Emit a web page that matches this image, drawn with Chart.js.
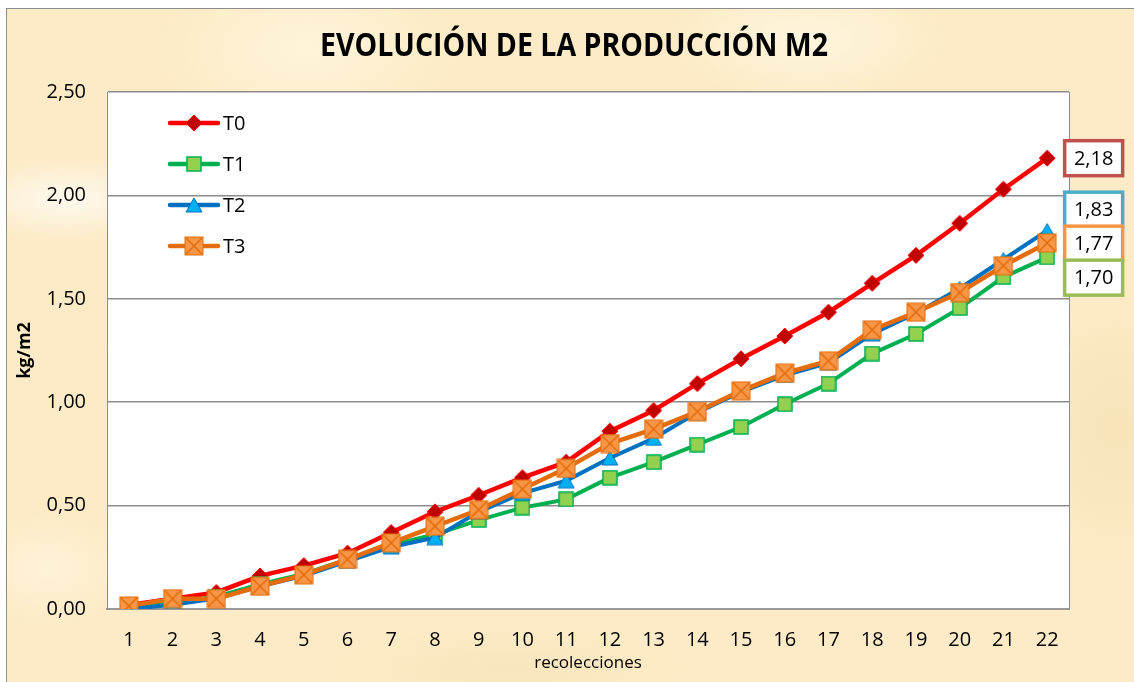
<!DOCTYPE html>
<html lang="es">
<head>
<meta charset="UTF-8" />
<script src="https://cdn.jsdelivr.net/npm/chart.js@4.4.0/dist/chart.umd.min.js"></script>
<style>
	html, body { margin: 0; padding: 0; background: #fff; overflow: hidden; }
	#frame {
		position: absolute; left: 6px; top: 8px; width: 1140px; height: 690px;
		border-left: 1.5px solid #8c8c8c; border-top: 1.5px solid #8c8c8c;
		background-color: #fcebc6;
		background-image:
			radial-gradient(ellipse 160px 60px at 60px 190px, rgba(255,255,255,0.7), rgba(255,255,255,0) 70%),
			radial-gradient(ellipse 220px 120px at 300px 40px, rgba(255,246,222,0.8), rgba(255,246,222,0) 70%),
			radial-gradient(ellipse 200px 90px at 800px 30px, rgba(255,248,228,0.8), rgba(255,248,228,0) 70%),
			radial-gradient(ellipse 160px 200px at 1110px 420px, rgba(246,224,178,0.7), rgba(246,224,178,0) 70%),
			radial-gradient(ellipse 260px 60px at 500px 660px, rgba(248,228,186,0.8), rgba(248,228,186,0) 70%),
			radial-gradient(ellipse 120px 80px at 40px 560px, rgba(255,244,220,0.8), rgba(255,244,220,0) 70%);
	}
	#chart { position: absolute; left: 0; top: 0; }
</style>
</head>
<body>
<div id="frame"></div>
<canvas id="chart" width="1134" height="682"></canvas>
<script>
const labels = ['1', '2', '3', '4', '5', '6', '7', '8', '9', '10', '11', '12', '13', '14', '15', '16', '17', '18', '19', '20', '21', '22']
const t0 = [0.02, 0.05, 0.08, 0.16, 0.21, 0.27, 0.37, 0.47, 0.55, 0.635, 0.71, 0.86, 0.96, 1.09, 1.21, 1.32, 1.435, 1.575, 1.71, 1.865, 2.03, 2.18]
const t1 = [0.01, 0.03, 0.06, 0.12, 0.17, 0.24, 0.31, 0.36, 0.43, 0.49, 0.53, 0.635, 0.71, 0.795, 0.88, 0.99, 1.09, 1.235, 1.33, 1.455, 1.605, 1.70]
const t2 = [0.00, 0.02, 0.05, 0.11, 0.16, 0.23, 0.30, 0.345, 0.47, 0.56, 0.62, 0.73, 0.825, 0.95, 1.05, 1.13, 1.19, 1.33, 1.43, 1.55, 1.69, 1.83]
const t3 = [0.015, 0.05, 0.05, 0.11, 0.165, 0.24, 0.32, 0.40, 0.48, 0.58, 0.68, 0.80, 0.87, 0.955, 1.055, 1.14, 1.20, 1.35, 1.435, 1.53, 1.66, 1.77]
const seriesNames = ['T0', 'T1', 'T2', 'T3']
const lineColors = ['#FF0000', '#00B050', '#0070C0', '#E46C0A']
const boxColors = ['#C0504D', '#9BBB59', '#4BACC6', '#F79646']
const yTicks = [0, 0.5, 1, 1.5, 2, 2.5]
const titleText = 'EVOLUCIÓN DE LA PRODUCCIÓN M2'

const FONT = "'Open Sans', 'Liberation Sans', sans-serif"
const fmt = (v) => v.toFixed(2).replace('.', ',')

function marker(w, h, draw) {
	const c = document.createElement('canvas')
	c.width = w
	c.height = h
	draw(c.getContext('2d'), w, h)
	return c
}
const diamond = marker(18, 18, (g, w, h) => {
	g.beginPath()
	g.moveTo(w / 2, 1); g.lineTo(w - 1, h / 2); g.lineTo(w / 2, h - 1); g.lineTo(1, h / 2)
	g.closePath()
	g.fillStyle = '#C00000'; g.fill()
	g.strokeStyle = '#FF0000'; g.lineWidth = 1; g.stroke()
})
const square = marker(16, 16, (g, w, h) => {
	g.fillStyle = '#92D050'; g.fillRect(1, 1, w - 2, h - 2)
	g.strokeStyle = '#00B050'; g.lineWidth = 1.5; g.strokeRect(1, 1, w - 2, h - 2)
})
const triangle = marker(18, 16, (g, w, h) => {
	g.beginPath()
	g.moveTo(w / 2, 1); g.lineTo(w - 1, h - 1); g.lineTo(1, h - 1)
	g.closePath()
	g.fillStyle = '#00B0F0'; g.fill()
	g.strokeStyle = '#0070C0'; g.lineWidth = 1; g.stroke()
})
const crossBox = marker(20, 20, (g, w, h) => {
	g.fillStyle = '#F79646'; g.fillRect(1, 1, w - 2, h - 2)
	g.strokeStyle = '#E46C0A'; g.lineWidth = 1
	g.strokeRect(1, 1, w - 2, h - 2)
	g.lineWidth = 1.5
	g.beginPath()
	g.moveTo(2, 2); g.lineTo(w - 2, h - 2)
	g.moveTo(w - 2, 2); g.lineTo(2, h - 2)
	g.stroke()
})
const markers = [diamond, square, triangle, crossBox]
const series = [t0, t1, t2, t3]

const plotArea = {
	id: 'plotArea',
	beforeDraw(chart) {
		const { ctx, chartArea: a } = chart
		ctx.save()
		ctx.fillStyle = '#fff'
		ctx.fillRect(a.left, a.top, a.width, a.height)
		ctx.restore()
	},
	afterDraw(chart) {
		const { ctx, chartArea: a } = chart
		ctx.save()
		ctx.strokeStyle = '#8c8c8c'
		ctx.lineWidth = 1
		ctx.beginPath()
		ctx.moveTo(a.right + 0.5, a.top)
		ctx.lineTo(a.right + 0.5, a.bottom)
		ctx.stroke()
		// title, squeezed to the narrow look of the original
		ctx.font = 'bold 32px ' + FONT
		ctx.fillStyle = '#000'
		ctx.textBaseline = 'middle'
		ctx.textAlign = 'center'
		const tw = ctx.measureText(titleText).width
		ctx.translate(574, 47)
		ctx.scale(508 / tw, 1)
		ctx.fillText(titleText, 0, 0)
		ctx.restore()
	},
}

const legendBox = {
	id: 'legendBox',
	afterDraw(chart) {
		const { ctx, chartArea: a } = chart
		ctx.save()
		seriesNames.forEach((name, i) => {
			const y = a.top + 31 + i * 41
			const x0 = a.left + 63
			ctx.strokeStyle = lineColors[i]
			ctx.lineWidth = 4.5
			ctx.lineCap = 'round'
			ctx.beginPath()
			ctx.moveTo(x0, y)
			ctx.lineTo(x0 + 48, y)
			ctx.stroke()
			const m = markers[i]
			ctx.drawImage(m, Math.round(x0 + 24 - m.width / 2), Math.round(y - m.height / 2))
			ctx.fillStyle = '#000'
			ctx.font = '20px ' + FONT
			ctx.textBaseline = 'middle'
			ctx.fillText(name, x0 + 53, y + 1)
		})
		ctx.restore()
	},
}

const endLabels = {
	id: 'endLabels',
	afterDraw(chart) {
		const { ctx } = chart
		const items = series.map((s, i) => {
			const p = chart.getDatasetMeta(i).data[s.length - 1]
			return { i, x: p.x, y: p.y, v: s[s.length - 1] }
		})
		const sorted = items.slice().sort((a, b) => a.y - b.y)
		const gap = 34
		for (let k = 0; k < 200; k++) {
			for (let j = 0; j < sorted.length - 1; j++) {
				const d = sorted[j + 1].y - sorted[j].y
				if (d < gap) {
					const push = (gap - d) / 2
					sorted[j].y -= push
					sorted[j + 1].y += push
				}
			}
		}
		ctx.save()
		const order = [0, 2, 3, 1]
		order.forEach((idx) => {
			const it = items[idx]
			const w = 58, h = 35
			const left = it.x + 17.5, top = it.y - h / 2
			ctx.fillStyle = '#fff'
			ctx.fillRect(left, top, w, h)
			ctx.strokeStyle = boxColors[it.i]
			ctx.lineWidth = 3.5
			ctx.strokeRect(left, top, w, h)
			ctx.fillStyle = '#000'
			ctx.font = '20px ' + FONT
			ctx.textAlign = 'center'
			ctx.textBaseline = 'middle'
			ctx.fillText(fmt(it.v), left + w / 2, it.y + 1)
		})
		ctx.restore()
	},
}

new Chart(document.getElementById('chart').getContext('2d'), {
	type: 'line',
	data: {
		labels,
		datasets: series.map((s, i) => ({
			label: seriesNames[i],
			data: s,
			borderColor: lineColors[i],
			backgroundColor: lineColors[i],
			borderWidth: i === 0 || i === 3 ? 4.5 : 4,
			pointStyle: markers[i],
			pointRadius: 8,
			tension: 0,
			order: 3 - i,
		})),
	},
	options: {
		responsive: false,
		animation: false,
		layout: { padding: { top: 92, right: 65, bottom: 0, left: 0 } },
		plugins: {
			legend: { display: false },
			tooltip: { enabled: false },
			title: { display: false },
		},
		scales: {
			x: {
				offset: true,
				grid: { display: false, drawTicks: false },
				border: { display: true, color: '#999', width: 2 },
				ticks: { color: '#000', font: { family: FONT, size: 20 }, padding: 19, maxRotation: 0, autoSkip: false },
				title: { display: true, text: 'recolecciones', color: '#000', font: { family: FONT, size: 17 }, padding: { top: 0, bottom: 9 } },
				afterFit(s) { s.height = 73 },
			},
			y: {
				min: 0,
				max: 2.5,
				afterBuildTicks(s) { s.ticks = yTicks.map((v) => ({ value: v })) },
				grid: { color: '#8c8c8c', lineWidth: 1.5, drawTicks: false },
				border: { display: true, color: '#8c8c8c', width: 1 },
				ticks: { color: '#000', font: { family: FONT, size: 20 }, padding: 21, callback: (v) => fmt(v) },
				title: { display: true, text: 'kg/m2', color: '#000', font: { family: FONT, size: 18, weight: 'bold' }, padding: { top: 14, bottom: 0 } },
				afterFit(s) { s.width = 107 },
			},
		},
	},
	plugins: [plotArea, legendBox, endLabels],
})
</script>
</body>
</html>
